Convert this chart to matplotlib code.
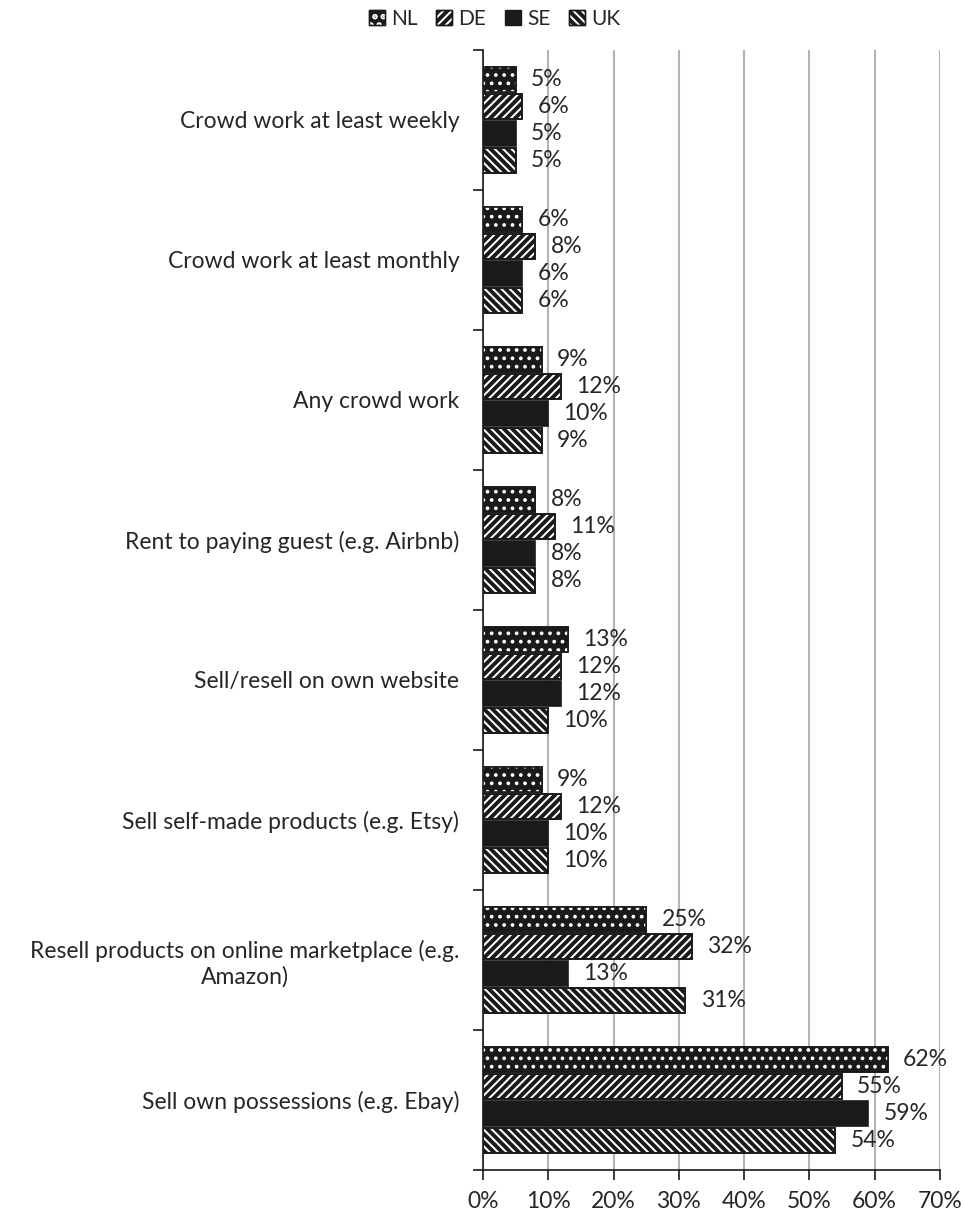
import matplotlib as mpl
import matplotlib.pyplot as plt
import matplotlib.patches as ptchs
from matplotlib.legend_handler import HandlerTuple
import numpy as np

plt.rcParams["font.family"] = "Lato"
plt.rcParams["font.size"] = 16.5
plt.rcParams["hatch.linewidth"] = 2.8
TEXT_COLOR = "#262626"

categories = [
    "Crowd work at least weekly",
    "Crowd work at least monthly",
    "Any crowd work",
    "Rent to paying guest (e.g. Airbnb)",
    "Sell/resell on own website",
    "Sell self-made products (e.g. Etsy)",
    "Resell products on online marketplace (e.g.\nAmazon)",
    "Sell own possessions (e.g. Ebay)",
]
countries = ["NL", "DE", "SE", "UK"]
nl = [5, 6, 9, 8, 13, 9, 25, 62]
de = [6, 8, 12, 11, 12, 12, 32, 55]
se = [5, 6, 10, 8, 12, 10, 13, 59]
uk = [5, 6, 9, 8, 10, 10, 31, 54]
x_ticks = [0, 10, 20, 30, 40, 50, 60, 70]

# fill, hatch, hatch colour, hatch width per series
STYLES = {
    "NL": dict(face="#1a1a1a", hatch="..", hatch_color="white", hatch_lw=1.5),
    "DE": dict(face="white", hatch="////", hatch_color="#1a1a1a", hatch_lw=2.8),
    "SE": dict(face="#1a1a1a", hatch=None, hatch_color=None, hatch_lw=0),
    "UK": dict(face="white", hatch="\\\\\\\\", hatch_color="#1a1a1a", hatch_lw=2.8),
}
PITCH = 0.193
HEIGHT = 0.178


def draw_series(ax, y, values, style):
    ax.barh(y, values, height=HEIGHT, color=style["face"], edgecolor="#1a1a1a", lw=1.2, zorder=3)
    if style["hatch"] is not None:
        with mpl.rc_context({"hatch.linewidth": style["hatch_lw"]}):
            ax.barh(y, values, height=HEIGHT, facecolor="none", edgecolor=style["hatch_color"],
                    hatch=style["hatch"], lw=0, zorder=4)
        ax.barh(y, values, height=HEIGHT, facecolor="none", edgecolor="#1a1a1a", lw=1.2, zorder=5)


def legend_handle(style):
    base = ptchs.Rectangle((0, 0), 1, 1, facecolor=style["face"], edgecolor="#1a1a1a", lw=1.0)
    if style["hatch"] is None:
        return (base,)
    with mpl.rc_context({"hatch.linewidth": style["hatch_lw"]}):
        over = ptchs.Rectangle((0, 0), 1, 1, facecolor="none", edgecolor=style["hatch_color"],
                               hatch=style["hatch"], lw=0)
    rim = ptchs.Rectangle((0, 0), 1, 1, facecolor="none", edgecolor="#1a1a1a", lw=1.0)
    return (base, over, rim)


fig = plt.figure(figsize=(9.64, 12.12), dpi=100)
ax = fig.add_axes([0.501, 0.0347, 0.474, 0.9241])

y = np.arange(len(categories))
all_series = (nl, de, se, uk)
for k, (name, values) in enumerate(zip(countries, all_series)):
    ys = y + (k - 1.5) * PITCH
    draw_series(ax, ys, np.array(values) / 100, STYLES[name])
    for yy, v in zip(ys, values):
        ax.annotate(f"{v}%", (v / 100, yy), xytext=(11, 0), textcoords="offset points",
                    ha="left", va="center", color=TEXT_COLOR)

ax.set_xlim(0, 0.7)
ax.set_ylim(len(categories) - 0.5, -0.5)
ax.set_xticks([t / 100 for t in x_ticks], [f"{t}%" for t in x_ticks])
ax.xaxis.grid(True, color="#b3b3b3", lw=1.5, zorder=0)
ax.set_axisbelow(True)

ax.set_yticks(np.arange(len(categories) + 1) - 0.5, [""] * (len(categories) + 1))
ax.set_yticks(y, categories, minor=True)
ax.tick_params(axis="y", which="minor", length=0, pad=17)
ax.tick_params(axis="y", which="major", length=7, width=1.2, color="#1a1a1a")
ax.tick_params(axis="x", length=7, width=1.2, color="#1a1a1a", pad=8, labelcolor=TEXT_COLOR)
for lbl in ax.get_yticklabels(minor=True):
    lbl.set_multialignment("center")
    lbl.set_color(TEXT_COLOR)

ax.spines[["right", "top"]].set_visible(False)
ax.spines[["left", "bottom"]].set_color("#1a1a1a")
ax.spines[["left", "bottom"]].set_linewidth(1.2)

handles = [legend_handle(STYLES[c]) for c in countries]
fig.legend(handles, countries, loc="upper center", bbox_to_anchor=(0.513, 1.008), ncol=4,
           frameon=False, handler_map={tuple: HandlerTuple(ndivide=1, pad=0)},
           handlelength=0.75, handleheight=0.75, handletextpad=0.3, columnspacing=0.9,
           labelcolor=TEXT_COLOR, fontsize=15)

fig.savefig("out.png", dpi=100)
